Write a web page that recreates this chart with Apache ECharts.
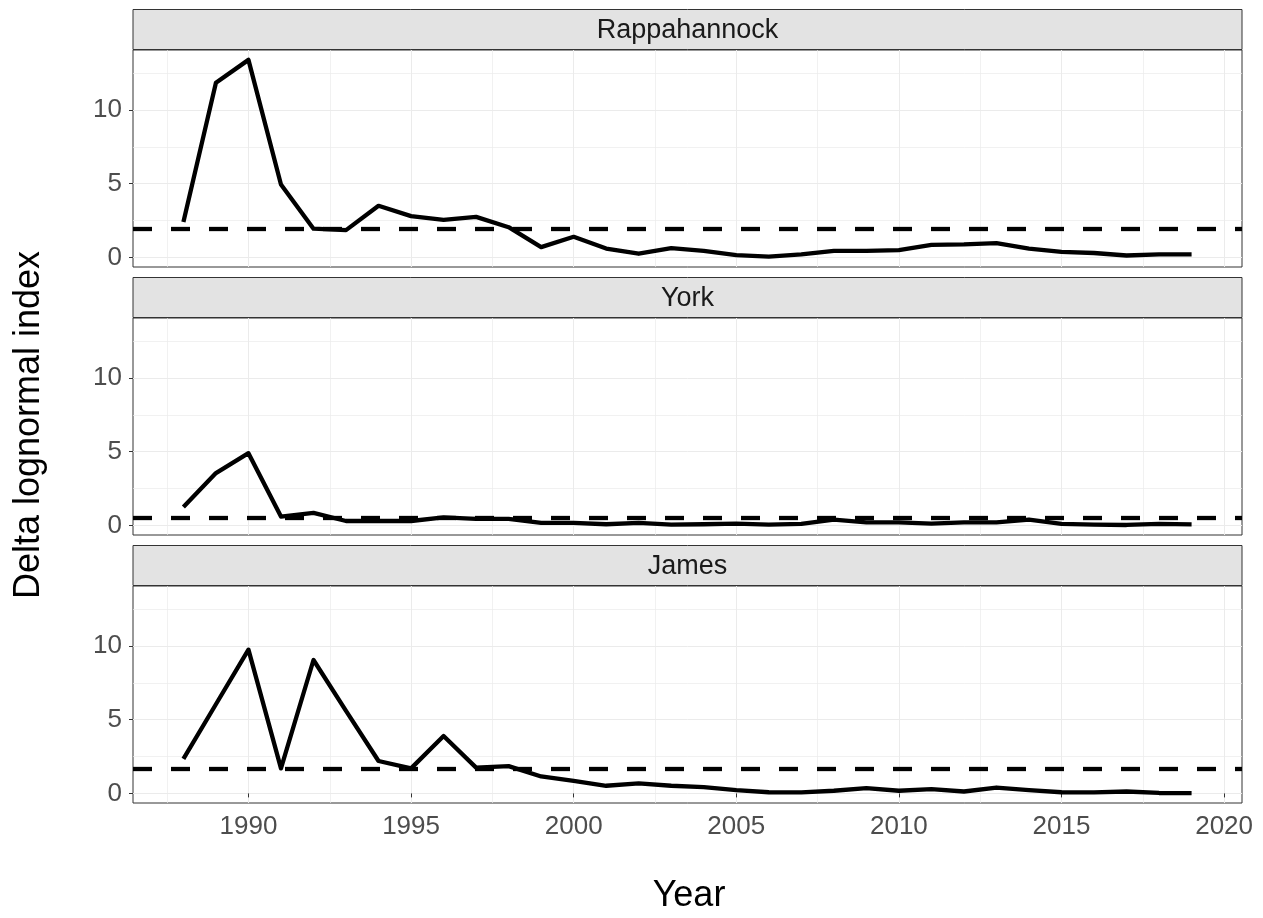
<!DOCTYPE html>
<html>
<head>
<meta charset="utf-8">
<script src="https://cdn.jsdelivr.net/npm/echarts@6/dist/echarts.min.js"></script>
<style>
  html, body { margin: 0; padding: 0; background: #fff; }
  #chart { width: 1263px; height: 918px; }
</style>
</head>
<body>
<div id="chart"></div>
<script>
// 年份与三条河的指数
const years = [1988, 1989, 1990, 1991, 1992, 1993, 1994, 1995, 1996, 1997, 1998, 1999,
  2000, 2001, 2002, 2003, 2004, 2005, 2006, 2007, 2008, 2009, 2010, 2011,
  2012, 2013, 2014, 2015, 2016, 2017, 2018, 2019];
const rappahannock = [2.4, 11.85, 13.4, 4.95, 1.95, 1.85, 3.5, 2.8, 2.55, 2.75, 2.05, 0.7,
  1.4, 0.6, 0.25, 0.63, 0.45, 0.16, 0.05, 0.2, 0.45, 0.45, 0.5, 0.85,
  0.88, 0.97, 0.6, 0.38, 0.3, 0.13, 0.2, 0.2];
const york = [1.25, 3.55, 4.9, 0.6, 0.85, 0.3, 0.3, 0.3, 0.55, 0.45, 0.45, 0.17,
  0.17, 0.08, 0.17, 0.05, 0.08, 0.12, 0.05, 0.1, 0.4, 0.2, 0.2, 0.12,
  0.2, 0.2, 0.4, 0.1, 0.05, 0.03, 0.1, 0.07];
const james = [2.35, 6.05, 9.75, 1.7, 9.05, 5.6, 2.2, 1.7, 3.9, 1.75, 1.85, 1.15,
  0.85, 0.52, 0.68, 0.52, 0.42, 0.22, 0.08, 0.07, 0.18, 0.36, 0.18, 0.29,
  0.13, 0.4, 0.22, 0.08, 0.07, 0.13, 0.03, 0.02];
const refLevels = [1.97, 0.54, 1.64]; // 虚线
const panelNames = ["Rappahannock", "York", "James"];
const panelValues = [rappahannock, york, james];

const xMajor = [1990, 1995, 2000, 2005, 2010, 2015, 2020];
const xMinor = [1987.5, 1992.5, 1997.5, 2002.5, 2007.5, 2012.5, 2017.5];
const yMajor = [0, 5, 10];
const yMinor = [2.5, 7.5, 12.5];

const FONT = "Liberation Sans, Arial, sans-serif";
const LEFT = 133, WIDTH = 1109, TOP0 = 50, PANEL_H = 217, STEP = 268, STRIP_H = 40;

const chart = echarts.init(document.getElementById("chart"));

const grids = [], xAxes = [], yAxes = [], series = [], graphics = [];

panelNames.forEach((name, i) => {
  const top = TOP0 + i * STEP;
  const isBottom = i === panelNames.length - 1;
  grids.push({
    left: LEFT, top: top, width: WIDTH, height: PANEL_H,
    show: true, borderColor: "#333", borderWidth: 1, backgroundColor: "#fff",
  });
  // 主刻度
  xAxes.push({
    type: "value", gridIndex: i, min: 1986.45, max: 2020.55,
    axisLine: { show: false },
    axisTick: { show: isBottom, customValues: xMajor, length: 4, lineStyle: { color: "#333" } },
    axisLabel: {
      show: isBottom, customValues: xMajor, fontSize: 26, color: "#4d4d4d",
      fontFamily: FONT, margin: 11, formatter: (v) => String(v),
    },
    splitLine: { show: true, lineStyle: { color: "#ebebeb", width: 1 } },
  });
  yAxes.push({
    type: "value", gridIndex: i, min: -0.65, max: 14.07,
    axisLine: { show: false },
    axisTick: { show: true, customValues: yMajor, length: 4, lineStyle: { color: "#333" } },
    axisLabel: {
      customValues: yMajor, fontSize: 26, color: "#4d4d4d", fontFamily: FONT, margin: 11,
    },
    splitLine: { show: true, lineStyle: { color: "#ebebeb", width: 1 } },
  });

  series.push({
    type: "line", xAxisIndex: i, yAxisIndex: i,
    data: years.map((yr, k) => [yr, panelValues[i][k]]),
    symbol: "none", z: 5,
    lineStyle: { color: "#000", width: 4.3, join: "round" },
    markLine: {
      silent: true, symbol: "none", label: { show: false },
      lineStyle: { color: "#000", width: 4.3, type: [19, 19] },
      data: [{ yAxis: refLevels[i] }],
    },
  });

  // 分面标签
  graphics.push({
    type: "rect", z: 10,
    shape: { x: LEFT, y: top - STRIP_H - 0.5, width: WIDTH, height: STRIP_H },
    style: { fill: "#e3e3e3", stroke: "#333", lineWidth: 1 },
  });
  graphics.push({
    type: "text", z: 11, x: LEFT + WIDTH / 2, y: top - STRIP_H / 2 + 1,
    style: {
      text: name, fontSize: 27, fontFamily: FONT, fill: "#1a1a1a",
      textAlign: "center", textVerticalAlign: "middle",
    },
  });
});

// 次刻度网格
panelNames.forEach((name, i) => {
  xAxes.push({
    type: "value", gridIndex: i, min: 1986.45, max: 2020.55, position: "top",
    axisLine: { show: false }, axisLabel: { show: false, customValues: xMinor },
    axisTick: { show: false, customValues: xMinor },
    splitLine: { show: true, lineStyle: { color: "#ebebeb", width: 0.7 } },
  });
  yAxes.push({
    type: "value", gridIndex: i, min: -0.65, max: 14.07, position: "right",
    axisLine: { show: false }, axisLabel: { show: false, customValues: yMinor },
    axisTick: { show: false, customValues: yMinor },
    splitLine: { show: true, lineStyle: { color: "#ebebeb", width: 0.7 } },
  });
});

graphics.push({
  type: "text", x: 689, y: 896,
  style: {
    text: "Year", fontSize: 36, fontFamily: FONT, fill: "#000",
    textAlign: "center", textVerticalAlign: "middle",
  },
});
graphics.push({
  type: "text", x: 29, y: 425, rotation: Math.PI / 2,
  style: {
    text: "Delta lognormal index", fontSize: 36, fontFamily: FONT, fill: "#000",
    textAlign: "center", textVerticalAlign: "middle",
  },
});

chart.setOption({
  animation: false,
  backgroundColor: "#fff",
  grid: grids,
  xAxis: xAxes,
  yAxis: yAxes,
  series: series,
  graphic: graphics,
});
</script>
</body>
</html>
